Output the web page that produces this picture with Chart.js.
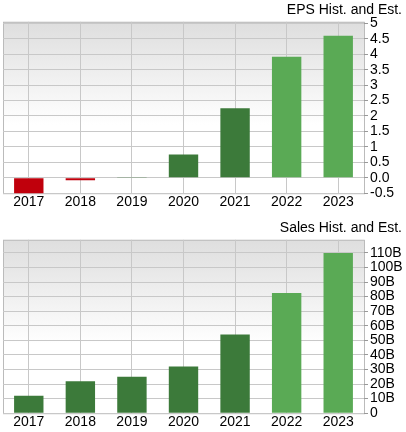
<!DOCTYPE html>
<html>
<head>
<script src="https://cdn.jsdelivr.net/npm/chart.js@4"></script>
<style>
  body { margin: 0; background: #fff; }
  .box { position: absolute; left: 0; width: 406px; }
</style>
</head>
<body>
<div class="box" style="top:0;height:212px"><canvas id="chart-eps"></canvas></div>
<div class="box" style="top:218px;height:214px"><canvas id="chart-sales"></canvas></div>
<script>
const years = ['2017', '2018', '2019', '2020', '2021', '2022', '2023']
const epsValues = [-0.56, -0.08, 0.01, 0.75, 2.25, 3.92, 4.6]
const salesValues = [12, 22, 25, 32, 54, 82.5, 110]
const barColors = ['#c0000c', '#c0000c', '#3c7a3a', '#3c7a3a', '#3c7a3a', '#5aaa55', '#5aaa55']

const bgPlugin = {
    id: 'bg',
    beforeDraw(chart) {
        const { ctx, chartArea: a } = chart
        const g = ctx.createLinearGradient(0, a.top, 0, a.bottom)
        g.addColorStop(0, '#dedede')
        g.addColorStop(0.6, '#ffffff')
        g.addColorStop(1, '#ffffff')
        ctx.save()
        ctx.fillStyle = g
        ctx.fillRect(a.left, a.top, a.right - a.left, a.bottom - a.top)
        ctx.strokeStyle = '#bbbbbb'
        ctx.strokeRect(a.left + 0.5, a.top + 0.5, a.right - a.left, a.bottom - a.top)
        ctx.restore()
    }
}

const font = { family: 'Liberation Sans, Arial', size: 13 }

const makeChart = (id, title, values, min, max, step, fmt, colors) => {
    new Chart(document.getElementById(id), {
        type: 'bar',
        plugins: [bgPlugin],
        data: {
            labels: years,
            datasets: [{
                data: values,
                backgroundColor: colors,
                borderColor: colors,
                borderWidth: 0,
                barPercentage: 0.57,
                categoryPercentage: 1
            }]
        },
        options: {
            animation: false,
            maintainAspectRatio: false,
            layout: { padding: { left: 3, right: 4, top: 0, bottom: 0 } },
            plugins: {
                legend: { display: false },
                tooltip: { enabled: false },
                title: {
                    display: true, text: title, align: 'end', color: '#000',
                    font: { ...font, size: 14, weight: 'normal' }, padding: { top: 2, bottom: 3 }
                }
            },
            scales: {
                x: {
                    grid: { color: '#c8c8c8', offset: false, drawTicks: false },
                    border: { display: false },
                    ticks: { color: '#000', font: { ...font, size: 14 }, padding: 1, maxRotation: 0 }
                },
                y: {
                    position: 'right', min, max,
                    afterFit: s => { s.width = 38 },
                    afterBuildTicks: s => {
                        const t = []
                        for (let v = min; v <= max + 1e-9; v += step) t.push({ value: Math.round(v * 100) / 100 })
                        s.ticks = t
                    },
                    grid: { color: '#c8c8c8', drawTicks: true, tickLength: 4, tickColor: '#999' },
                    border: { display: false },
                    ticks: { color: '#000', font: { ...font, size: 14 }, padding: 2, autoSkip: false, callback: fmt }
                }
            }
        }
    })
}

makeChart('chart-eps', 'EPS Hist. and Est.', epsValues, -0.5, 5.05, 0.5,
    v => v === 0 ? '0.0' : String(v), barColors)
makeChart('chart-sales', 'Sales Hist. and Est.', salesValues, 0, 119, 10,
    v => v === 0 ? '0' : v + 'B', barColors.map((c, i) => i < 2 ? '#3c7a3a' : c))
</script>
</body>
</html>
